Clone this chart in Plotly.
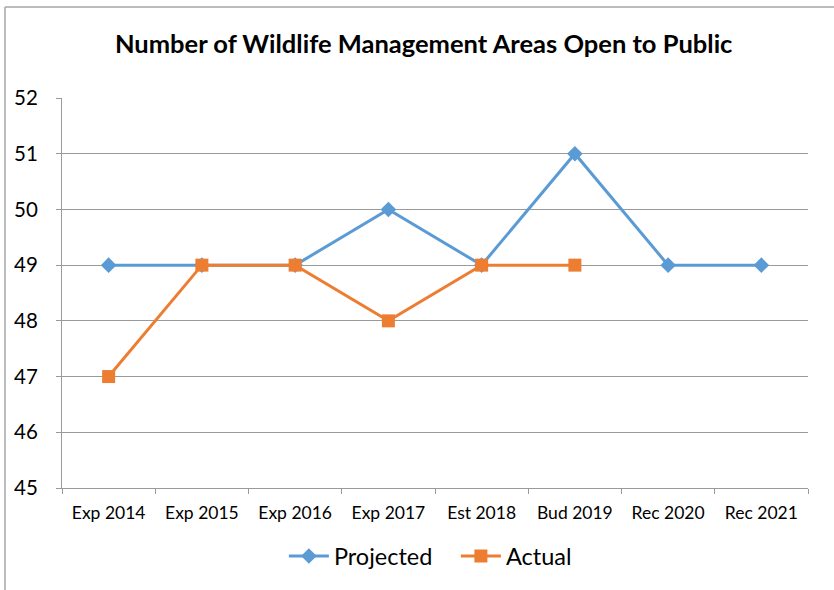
import plotly.graph_objects as go

categories = ["Exp 2014", "Exp 2015", "Exp 2016", "Exp 2017", "Est 2018", "Bud 2019", "Rec 2020", "Rec 2021"]
projected = [49, 49, 49, 50, 49, 51, 49, 49]
actual = [47, 49, 49, 48, 49, 49, None, None]

BLUE = "#5B9BD5"
ORANGE = "#ED7D31"
GRID = "#9A9A9A"
FONT = "Lato"

fig = go.Figure()
fig.add_trace(go.Scatter(
    x=categories, y=projected, name="Projected", mode="lines+markers",
    line=dict(color=BLUE, width=3),
    marker=dict(symbol="diamond", size=12, color=BLUE),
))
fig.add_trace(go.Scatter(
    x=categories[:6], y=actual[:6], name="Actual", mode="lines+markers",
    line=dict(color=ORANGE, width=3),
    marker=dict(symbol="square", size=13, color=ORANGE),
))

fig.update_layout(
    width=834, height=590,
    margin=dict(l=62, r=26, t=98, b=102),
    paper_bgcolor="white", plot_bgcolor="white",
    font=dict(family=FONT, color="#000000"),
    title=dict(
        text="<b>Number of Wildlife Management Areas Open to Public</b>",
        x=0.508, xanchor="center", y=0.925, yanchor="middle",
        font=dict(size=25.5, family=FONT, color="#000000"),
    ),
    showlegend=True,
    legend=dict(
        orientation="h", x=0.528, xanchor="center", y=-0.175, yanchor="middle",
        font=dict(size=23.5, family=FONT), itemwidth=40, traceorder="normal",
        entrywidth=117, entrywidthmode="pixels",
    ),
    xaxis=dict(
        type="category", range=[-0.5, 7.5],
        showgrid=False, showline=True, linecolor=GRID, linewidth=1,
        ticks="outside", tickson="boundaries", ticklen=5, tickcolor=GRID,
        tickfont=dict(size=17.5, family=FONT), ticklabelstandoff=9,
        fixedrange=True,
    ),
    yaxis=dict(
        range=[45, 52], dtick=1, tick0=45,
        showgrid=True, gridcolor=GRID, gridwidth=1,
        showline=True, linecolor=GRID, linewidth=1,
        ticks="outside", ticklen=5, tickcolor=GRID,
        tickfont=dict(size=20.5, family=FONT), ticklabelstandoff=14,
        zeroline=False, fixedrange=True,
    ),
)

# chart frame: top edge and left edge
fig.add_shape(type="line", xref="paper", yref="paper",
              x0=(5 - 62) / 746, x1=1.1, y0=(488 - 7) / 390, y1=(488 - 7) / 390,
              line=dict(color="#A6A6A6", width=1.5))
fig.add_shape(type="line", xref="paper", yref="paper",
              x0=(5 - 62) / 746, x1=(5 - 62) / 746, y0=(488 - 7) / 390, y1=-0.4,
              line=dict(color="#A6A6A6", width=1.5))

fig.write_html("out.html")
